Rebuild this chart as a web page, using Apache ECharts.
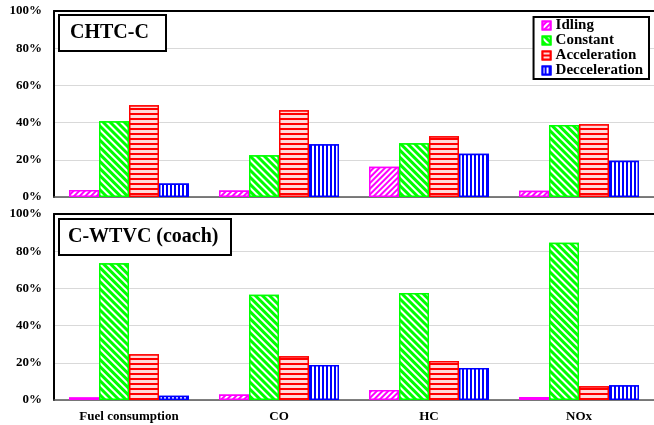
<!DOCTYPE html>
<html>
<head>
<meta charset="utf-8">
<script src="https://cdn.jsdelivr.net/npm/echarts@6/dist/echarts.min.js"></script>
<style>html,body{margin:0;padding:0;background:#fff}#c{width:654px;height:425px}</style>
</head>
<body>
<div id="c"></div>
<script>
const categories = ['Fuel consumption', 'CO', 'HC', 'NOx'];
const seriesNames = ['Idling', 'Constant', 'Acceleration', 'Decceleration'];
const yTicks = [0, 20, 40, 60, 80, 100];
const panelTitles = ['CHTC-C', 'C-WTVC (coach)'];

// CHTC-C panel (%)
const chtcIdling = [3.8, 3.5, 16.3, 3.4];
const chtcConstant = [40.7, 22.4, 28.9, 38.7];
const chtcAcceleration = [49.3, 46.6, 32.6, 39.1];
const chtcDecceleration = [7.2, 28.3, 23.3, 19.5];

// C-WTVC (coach) panel (%)
const wtvcIdling = [1.4, 2.9, 5.4, 1.6];
const wtvcConstant = [73.5, 56.6, 57.5, 84.6];
const wtvcAcceleration = [24.6, 23.5, 21.0, 7.4];
const wtvcDecceleration = [2.3, 18.8, 17.2, 7.9];

const FONT = '"Liberation Serif", "Times New Roman", serif';
const colors = ['#ff00ff', '#00ff00', '#ff0000', '#0000ff'];
const decals = [
  { symbol: 'rect', color: '#ffffff', dashArrayX: [1, 0], dashArrayY: [2, 2], rotation: -Math.PI / 4 },
  { symbol: 'rect', color: '#ffffff', dashArrayX: [1, 0], dashArrayY: [1.6, 2.2], rotation: Math.PI / 4 },
  { symbol: 'rect', color: 'rgba(255,255,255,0.85)', dashArrayX: [1, 0], dashArrayY: [2.2, 1.3] },
  { symbol: 'rect', color: '#ffffff', dashArrayX: [1.8, 1.6], dashArrayY: [1, 0] }
];

const panels = [
  [chtcIdling, chtcConstant, chtcAcceleration, chtcDecceleration],
  [wtvcIdling, wtvcConstant, wtvcAcceleration, wtvcDecceleration]
];

const grids = [
  { left: 54, right: 0, top: 11, height: 186 },
  { left: 54, right: 0, top: 214, height: 186 }
];

const xAxes = [];
const yAxes = [];
const series = [];
[0, 1].forEach(function (g) {
  xAxes.push({
    type: 'category', gridIndex: g, data: categories, position: 'bottom',
    axisLine: { lineStyle: { color: '#555', width: 1.5 } },
    axisTick: { show: false },
    axisLabel: { show: g === 1, color: '#000', fontFamily: FONT, fontWeight: 'bold', fontSize: 13, margin: 10 }
  });
  xAxes.push({
    type: 'category', gridIndex: g, data: categories, position: 'top',
    axisLine: { lineStyle: { color: '#000', width: 2 } },
    axisTick: { show: false }, axisLabel: { show: false }
  });
  yAxes.push({
    type: 'value', gridIndex: g, min: yTicks[0], max: yTicks[yTicks.length - 1], interval: 20,
    axisLine: { show: true, lineStyle: { color: '#000', width: 2 } },
    axisTick: { show: false },
    axisLabel: { color: '#000', fontFamily: FONT, fontWeight: 'bold', fontSize: 13, margin: 12, formatter: '{value}%' },
    splitLine: { lineStyle: { color: '#d9d9d9', width: 1 } }
  });
  panels[g].forEach(function (vals, i) {
    series.push({
      name: seriesNames[i], type: 'bar', xAxisIndex: g * 2, yAxisIndex: g, data: vals,
      barGap: '0%', barCategoryGap: '20%',
      itemStyle: { color: colors[i], borderColor: colors[i], borderWidth: 1.5, decal: decals[i] },
      emphasis: { disabled: true }
    });
  });
});

const chart = echarts.init(document.getElementById('c'), null, { renderer: 'canvas' });
chart.setOption({
  animation: false,
  backgroundColor: '#fff',
  title: [
    { text: panelTitles[0], left: 59, top: 15, padding: [8, 17, 8, 11], borderColor: '#000', borderWidth: 2,
      backgroundColor: '#fff',
      textStyle: { fontFamily: FONT, fontWeight: 'bold', fontSize: 20, color: '#000' } },
    { text: panelTitles[1], left: 59, top: 219, padding: [8, 13, 8, 9], borderColor: '#000', borderWidth: 2,
      backgroundColor: '#fff',
      textStyle: { fontFamily: FONT, fontWeight: 'bold', fontSize: 20, color: '#000' } }
  ],
  legend: {
    data: seriesNames, orient: 'vertical', right: 5, top: 17,
    borderColor: '#000', borderWidth: 2, backgroundColor: '#fff',
    padding: [1, 6, 1, 8], itemWidth: 8, itemHeight: 8, itemGap: 0, itemTextGap: 4,
    icon: 'rect',
    textStyle: { fontFamily: FONT, fontWeight: 'bold', fontSize: 15, color: '#000', lineHeight: 15 }
  },
  grid: grids,
  xAxis: xAxes,
  yAxis: yAxes,
  series: series
});
</script>
</body>
</html>
